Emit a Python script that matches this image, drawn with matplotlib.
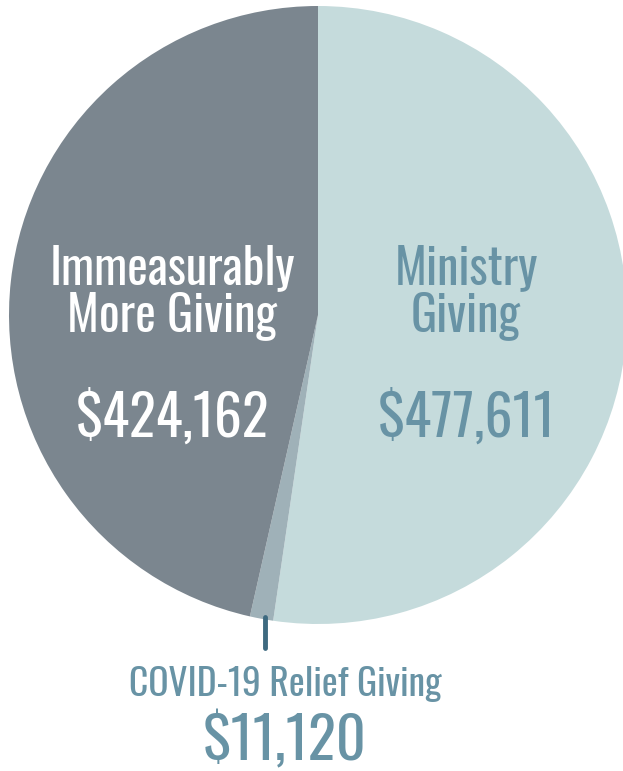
import matplotlib
matplotlib.use('Agg')
import matplotlib.pyplot as plt

# data
labels = ['Ministry\nGiving', 'COVID-19 Relief Giving', 'Immeasurably\nMore Giving']
amounts = [477611, 11120, 424162]
amount_text = ['$477,611', '$11,120', '$424,162']
colors = ['#c5dbdc', '#9fb1b8', '#7b868f']

W, H = 623, 771
fig = plt.figure(figsize=(W/100, H/100), dpi=100)
ax = fig.add_axes([0, 0, 1, 1])

cx, cy, r = 318, H-315, 309
ax.pie(amounts, colors=colors, startangle=90, counterclock=False,
       center=(cx, cy), radius=r, frame=True,
       wedgeprops=dict(linewidth=0))
ax.set_xlim(0, W)
ax.set_ylim(0, H)
ax.set_aspect('equal')
ax.axis('off')

fam = ['Oswald', 'DejaVu Sans']
kw = dict(ha='center', va='center', family=fam, weight='light', linespacing=0.97)
blue = '#6893a5'
ax.text(466, H-292, labels[0], color=blue, fontsize=35, **kw)
ax.text(466, H-418, amount_text[0], color=blue, fontsize=40, **kw)
ax.text(172, H-292, labels[2], color='white', fontsize=35, **kw)
ax.text(172, H-418, amount_text[2], color='white', fontsize=40, **kw)
ax.text(285, H-684, labels[1], color=blue, fontsize=27, **kw)
ax.text(285, H-742, amount_text[1], color=blue, fontsize=42, **kw)

ax.plot([265, 265], [H-617, H-648], color='#3e6a80', lw=3.5, solid_capstyle='round')

fig.savefig('out.png', dpi=100)
